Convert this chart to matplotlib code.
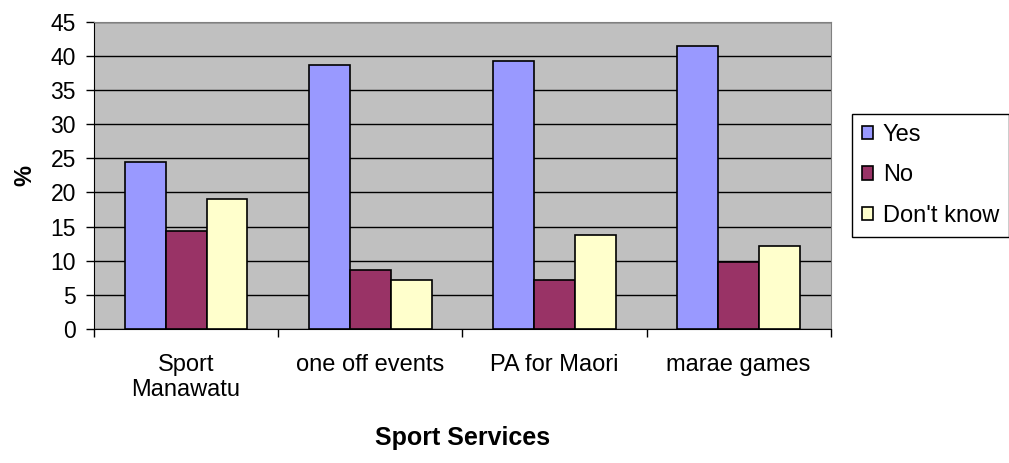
import numpy as np
import matplotlib.pyplot as plt

plt.rcParams['font.family'] = ['Liberation Sans', 'DejaVu Sans']

categories = ['Sport\nManawatu', 'one off events', 'PA for Maori', 'marae games']
yes = [24.4, 38.6, 39.2, 41.4]
no = [14.4, 8.6, 7.2, 9.8]
dont_know = [19.1, 7.2, 13.8, 12.2]
series = [('Yes', yes, '#9999FF'), ('No', no, '#993366'), ("Don't know", dont_know, '#FFFFCC')]

fig = plt.figure(figsize=(10.09, 4.63), dpi=100)
ax = fig.add_axes([0.0932, 0.2894, 0.7301, 0.6636])
ax.set_facecolor('#C0C0C0')

x = np.arange(len(categories))
w = 0.222
for i, (name, vals, col) in enumerate(series):
    ax.bar(x + (i - 1) * w, vals, w, color=col, edgecolor='black', linewidth=1.2,
           label=name, zorder=3)

ax.set_xlim(-0.5, len(categories) - 0.5)
ax.set_ylim(0, 45)
ax.set_yticks(range(0, 46, 5))
ax.yaxis.grid(True, color='black', linewidth=1, zorder=1)
ax.set_axisbelow(True)

# category ticks sit on the group boundaries, labels in the middle
ax.set_xticks(np.arange(-0.5, len(categories)), minor=False)
ax.set_xticklabels([])
ax.set_xticks(x, minor=True)
ax.set_xticklabels(categories, minor=True, fontsize=17, linespacing=1.2)
ax.tick_params(axis='x', which='major', length=6, width=1, color='black')
ax.tick_params(axis='x', which='minor', length=0, pad=18)
ax.tick_params(axis='y', length=6, width=1, labelsize=16.5, pad=7)

for s in ['top', 'right']:
    ax.spines[s].set_color('#808080')
for s in ['left', 'bottom']:
    ax.spines[s].set_color('black')

ax.set_xlabel('Sport Services', fontsize=18, fontweight='bold', labelpad=18)
ax.set_ylabel('%', fontsize=17, fontweight='bold', labelpad=10)

leg = ax.legend(loc='upper left', bbox_to_anchor=(1.0285, 0.6996), fontsize=17,
                frameon=True, fancybox=False, edgecolor='black', framealpha=1,
                handlelength=0.5, handleheight=0.5, handletextpad=0.4,
                labelspacing=0.78, borderpad=0.42, borderaxespad=0)
leg.get_frame().set_linewidth(1)

fig.savefig('out.png', dpi=100)
